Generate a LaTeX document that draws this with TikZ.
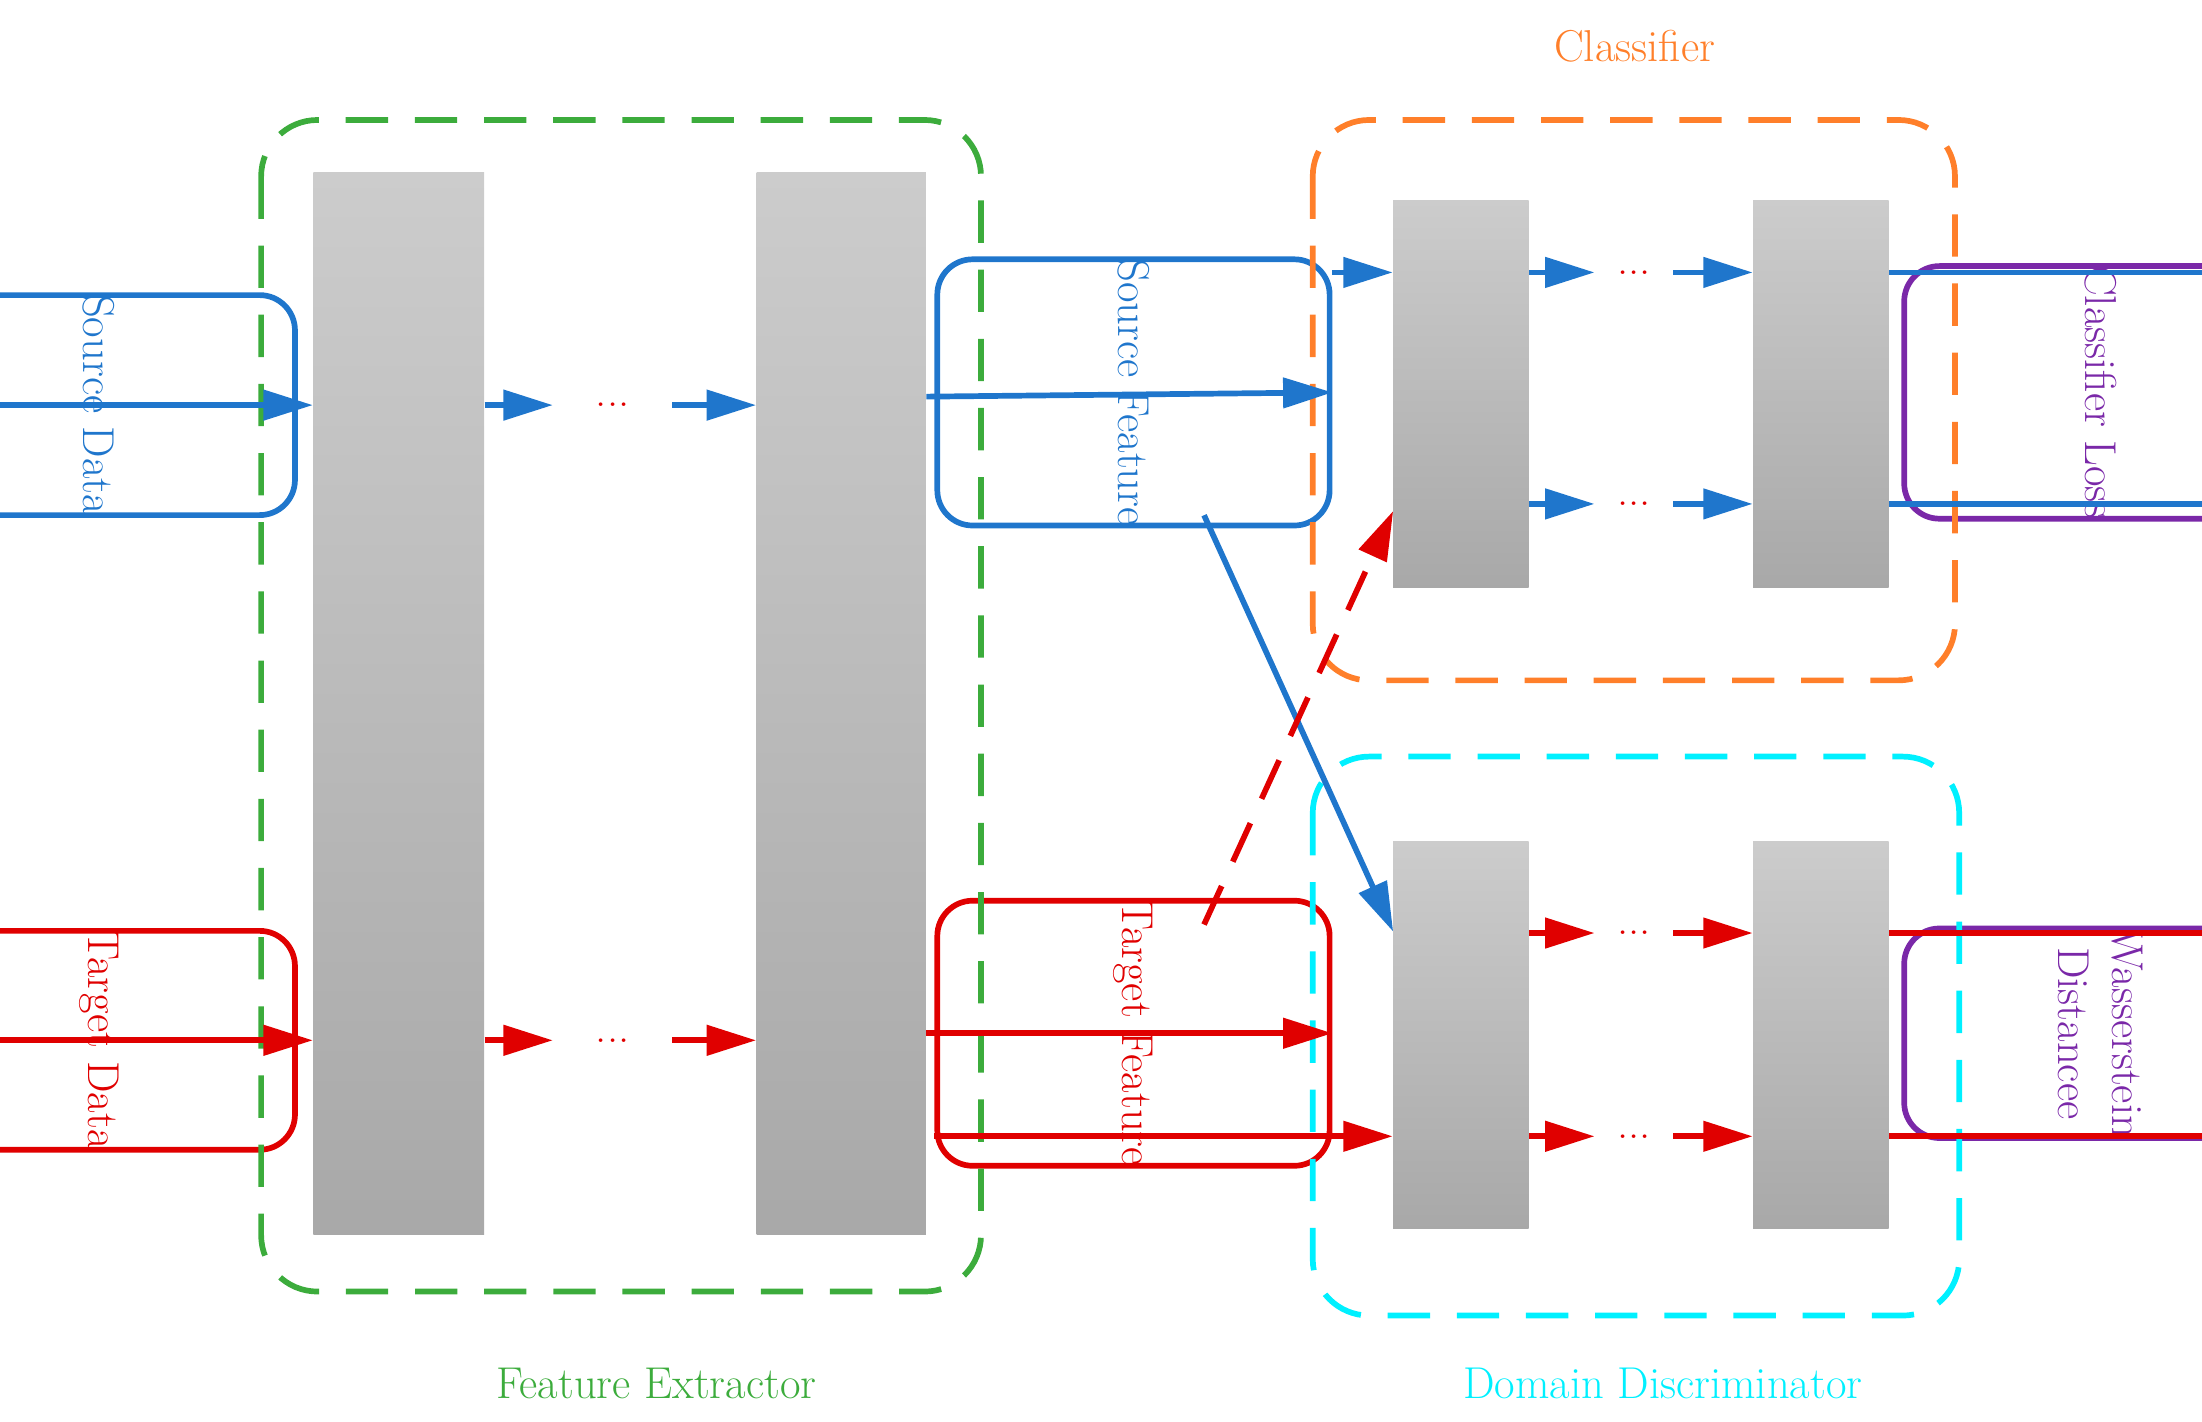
\documentclass[tikz,border=0pt]{standalone}
\usetikzlibrary{arrows.meta,calc}
\definecolor{cb}{RGB}{31,118,204}
\definecolor{cr}{RGB}{224,0,0}
\definecolor{cg}{RGB}{60,172,60}
\definecolor{co}{RGB}{255,127,42}
\definecolor{cc}{RGB}{0,240,255}
\definecolor{cp}{RGB}{122,40,168}
\begin{document}
\begin{tikzpicture}[x=0.02cm,y=-0.02cm,
  font=\fontsize{18}{22}\selectfont,
  box/.style={draw,line width=2.3pt,rounded corners=0.5cm,minimum width=2cm,minimum height=5.56cm,inner sep=0pt},
  bar/.style={top color=gray!40,bottom color=gray!68,draw=none,inner sep=0pt},
  grp/.style={line width=2.3pt,rounded corners=0.8cm,dash pattern=on 0.6cm off 0.38cm},
  ar/.style={line width=2.3pt,-{Triangle[length=0.7cm,width=0.42cm]}},
  dt/.style={text=cr,inner xsep=0pt,minimum width=#1},
  lab/.style={inner sep=0pt}]
\useasboundingbox (0,0) rectangle (1560,1007);
% boxes
\node[box,draw=cb,text=cb,rotate=-90] (sd) at (70,287) {Source Data};
\node[box,draw=cr,text=cr,rotate=-90] (td) at (70,737) {Target Data};
\node[box,draw=cb,text=cb,rotate=-90] (sf) at (803,278) {Source Feature};
\node[box,draw=cr,text=cr,rotate=-90] (tf) at (803,732) {Target Feature};
\node[box,draw=cp,text=cp,rotate=-90] (cl) at (1488,278) {Classifier Loss};
\node[box,draw=cp,text=cp,rotate=-90,align=center] (wd) at (1488,732) {Wasserstein\\Distancee};
% groups
\draw[grp,draw=cg] (185,85) rectangle (695,915);
\draw[grp,draw=co] (930,85) rectangle (1385,482);
\draw[grp,draw=cc] (930,536) rectangle (1388,932);
\node[lab,text=co] (lc) at (1158,33) {Classifier};
\node[lab,text=cg] (lf) at (465,980) {Feature Extractor};
\node[lab,text=cc] (ld) at (1178,980) {Domain Discriminator};
% bars
\node[bar,minimum width=2.42cm,minimum height=15.06cm] (b1) at (282.5,498.5) {};
\node[bar,minimum width=2.4cm,minimum height=15.06cm] (b2) at (596,498.5) {};
\node[bar,minimum width=1.92cm,minimum height=5.48cm] (c1) at (1035,279) {};
\node[bar,minimum width=1.92cm,minimum height=5.48cm] (c2) at (1290,279) {};
\node[bar,minimum width=1.92cm,minimum height=5.48cm] (e1) at (1035,733) {};
\node[bar,minimum width=1.92cm,minimum height=5.48cm] (e2) at (1290,733) {};
% dots
\node[dt=1.68cm] (d1) at (434,287) {...};
\node[dt=1.68cm] (d2) at (434,737) {...};
\node[dt=1.1cm] (d3) at (1157.5,193) {...};
\node[dt=1.1cm] (d4) at (1157.5,357) {...};
\node[dt=1.1cm] (d5) at (1157.5,661) {...};
\node[dt=1.1cm] (d6) at (1157.5,805) {...};
% feature extractor arrows
\draw[ar,cb] (sd.south) -- (sd.south -| b1.west);
\draw[ar,cb] (b1.east |- d1) -- (d1.west);
\draw[ar,cb] (d1.east) -- (b2.west |- d1);
\draw[ar,cb] (b2.east |- 0,281) -- (sf.north);
\draw[ar,cr] (td.south) -- (td.south -| b1.west);
\draw[ar,cr] (b1.east |- d2) -- (d2.west);
\draw[ar,cr] (d2.east) -- (b2.west |- d2);
\draw[ar,cr] (b2.east |- tf) -- (tf.north);
% classifier
\draw[ar,cb] (sf.north east |- d3) -- (c1.west |- d3);
\draw[ar,cb] (c1.east |- d3) -- (d3.west);
\draw[ar,cb] (d3.east) -- (c2.west |- d3);
\draw[ar,cb] (c2.east |- d3) -- (cl.north east |- d3);
\draw[ar,cb] (c1.east |- d4) -- (d4.west);
\draw[ar,cb] (d4.east) -- (c2.west |- d4);
\draw[ar,cb] (c2.east |- d4) -- (cl.north east |- d4);
% discriminator
\draw[ar,cr] (e1.east |- d5) -- (d5.west);
\draw[ar,cr] (d5.east) -- (e2.west |- d5);
\draw[ar,cr] (e2.east |- d5) -- (wd.north east |- d5);
\draw[ar,cr] (tf.south east |- d6) -- (e1.west |- d6);
\draw[ar,cr] (e1.east |- d6) -- (d6.west);
\draw[ar,cr] (d6.east) -- (e2.west |- d6);
\draw[ar,cr] (e2.east |- d6) -- (wd.north east |- d6);
% cross
\coordinate (x1) at (853,365);
\coordinate (x2) at (987,660);
\coordinate (y1) at (853,655);
\coordinate (y2) at (987,362);
\draw[ar,cb] (x1) -- (x2);
\draw[ar,cr,dash pattern=on 0.6cm off 0.38cm] (y1) -- (y2);
\end{tikzpicture}
\end{document}
